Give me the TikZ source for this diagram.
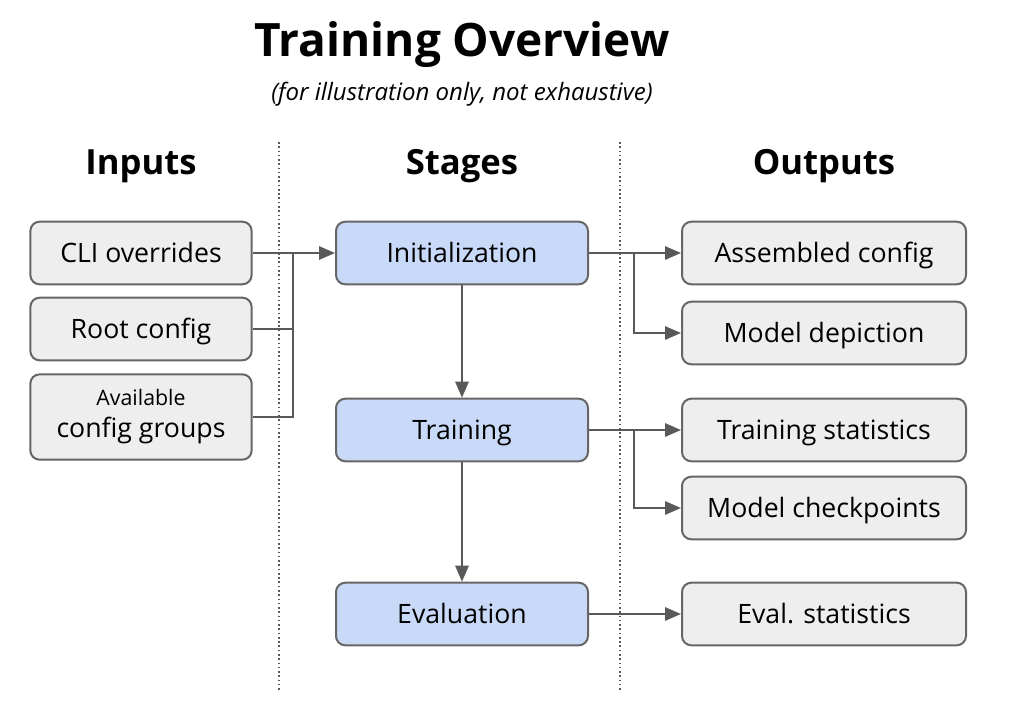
\documentclass[tikz,border=0pt]{standalone}
\usepackage{fontspec}
\setmainfont{Open Sans}
\usetikzlibrary{arrows.meta}
\definecolor{boxgray}{HTML}{EEEEEE}
\definecolor{boxblue}{HTML}{C9DAF8}
\definecolor{edgegray}{HTML}{666666}
\definecolor{linegray}{HTML}{595959}
\begin{document}
\begin{tikzpicture}[x=0.75pt,y=-0.75pt]
\tikzstyle{every node}=[font=\fontsize{20}{24}\selectfont]
\tikzstyle{inbox}=[draw=edgegray,line width=1.5pt,rounded corners=7pt,fill=boxgray,minimum width=166pt,minimum height=47pt,align=center,text height=14.3pt,text depth=0pt]
\tikzstyle{outbox}=[inbox,minimum width=213pt]
\tikzstyle{stage}=[inbox,fill=boxblue,minimum width=189pt]
\tikzstyle{head}=[font=\fontsize{26}{30}\selectfont\bfseries,text height=18.5pt,text depth=0pt]
\tikzstyle{link}=[draw=linegray,line width=1.5pt,-{Triangle[length=12pt,width=10pt]}]
\useasboundingbox (0,0) rectangle (1013,717);
% titles
\node(title) at (462,45) {\fontsize{34.5}{40}\selectfont\bfseries Training Overview};
\node(sub) at (462,94) {\fontsize{18}{20}\selectfont\itshape (for illustration only, not exhaustive)};
\node[head](hin) at (141,162) {Inputs};
\node[head](hst) at (462,162) {Stages};
\node[head](hout) at (824,162) {Outputs};
% separators
\draw[dotted,line width=1.2pt,linegray] (279,142) -- (279,690);
\draw[dotted,line width=1.2pt,linegray] (620,142) -- (620,690);
% inputs
\node[inbox](cli) at (141,253) {CLI overrides};
\node[inbox](root) at (141,329) {Root config};
\node[inbox,minimum height=64pt,text height=,text depth=](grp) at (141,417) {{\fontsize{16}{18}\selectfont Available}\\[0pt]config groups};
% stages
\node[stage](init) at (462,253) {Initialization};
\node[stage](train) at (462,430) {Training};
\node[stage](eval) at (462,614) {Evaluation};
% outputs
\node[outbox](asm) at (824,253) {Assembled config};
\node[outbox](dep) at (824,333) {Model depiction};
\node[outbox](tst) at (824,430) {Training statistics};
\node[outbox](ckp) at (824,508) {Model checkpoints};
\node[outbox](est) at (824,614) {Eval. statistics};
% connectors
\coordinate(jin) at (293,253);
\coordinate(jinit) at (634,253);
\coordinate(jtrain) at (634,430);
\draw[link] (cli.east) -- (init.west);
\draw[draw=linegray,line width=1.5pt] (root.east) -| (jin);
\draw[draw=linegray,line width=1.5pt] (grp.east) -| (jin);
\draw[link] (init.east) -- (asm.west);
\draw[link] (jinit) |- (dep.west);
\draw[link] (train.east) -- (tst.west);
\draw[link] (jtrain) |- (ckp.west);
\draw[link] (eval.east) -- (est.west);
\draw[link] (init.south) -- (train.north);
\draw[link] (train.south) -- (eval.north);
\end{tikzpicture}
\end{document}
